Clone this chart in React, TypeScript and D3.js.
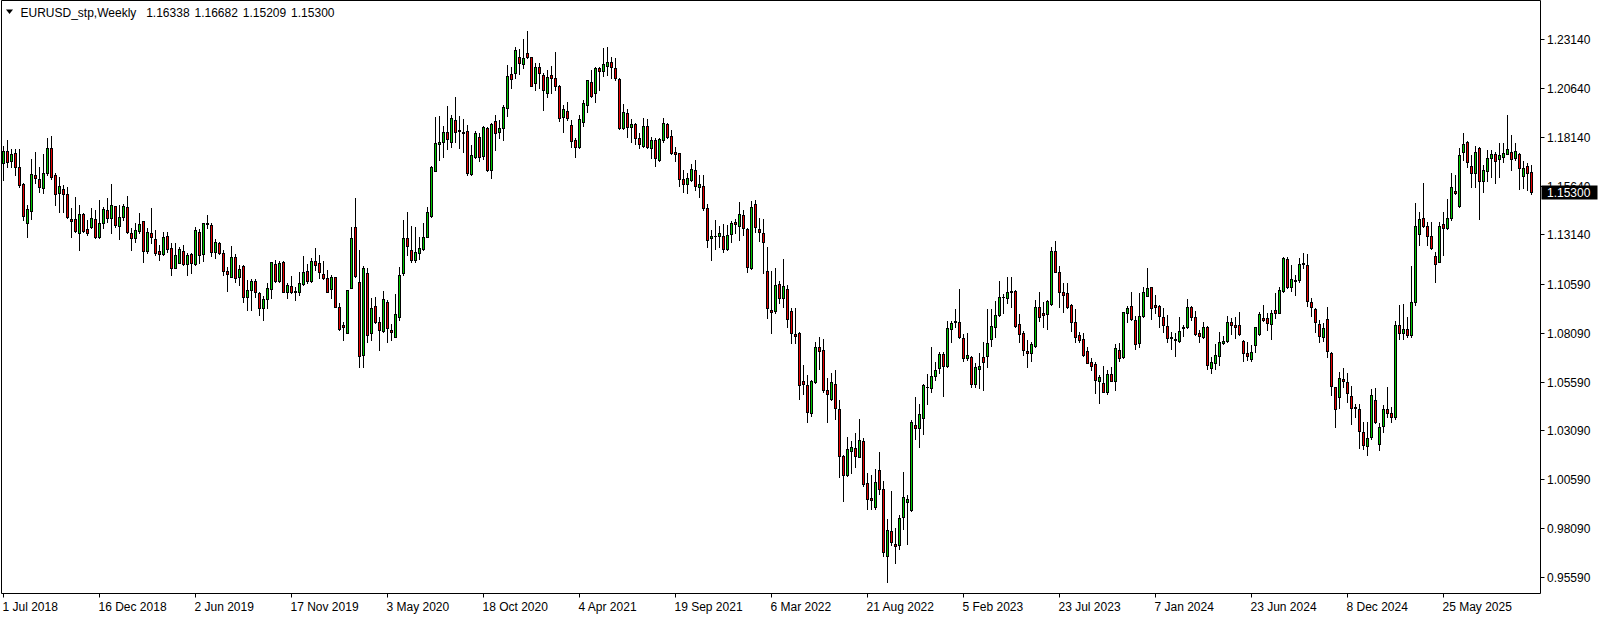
import * as d3 from 'd3'
import { useEffect, useRef } from 'react'

const WIDTH = 1604
const HEIGHT = 620
const AXIS_X = 1540.5
const AXIS_Y = 593.5
const FONT = '"Liberation Sans", Arial, sans-serif'

const BULL_COLOR = '#00c800'
const BEAR_COLOR = '#e60000'

const SYMBOL = 'EURUSD_stp,Weekly'

// weekly bars, 1 Jul 2018 onwards
// prettier-ignore
const OPENS = [
  1.1678, 1.1741, 1.1691, 1.1731, 1.1657, 1.1572, 1.1374, 1.1435, 1.1618, 1.1596,
  1.1550, 1.1626, 1.1754, 1.1618, 1.1524, 1.1546, 1.1520, 1.1392, 1.1392, 1.1319,
  1.1416, 1.1341, 1.1350, 1.1392, 1.1302, 1.1370, 1.1439, 1.1396, 1.1459, 1.1357,
  1.1401, 1.1452, 1.1319, 1.1293, 1.1333, 1.1380, 1.1230, 1.1321, 1.1288, 1.1227,
  1.1213, 1.1305, 1.1242, 1.1143, 1.1169, 1.1230, 1.1160, 1.1213, 1.1160, 1.1324,
  1.1211, 1.1370, 1.1362, 1.1222, 1.1268, 1.1217, 1.1126, 1.1097, 1.1199, 1.1094,
  1.1152, 1.0991, 1.1029, 1.1075, 1.1012, 1.0935, 1.0981, 1.1032, 1.1160, 1.1075,
  1.1170, 1.1020, 1.1049, 1.1023, 1.1020, 1.1058, 1.1126, 1.1075, 1.1177, 1.1165,
  1.1109, 1.1088, 1.1032, 1.1094, 1.0940, 1.0849, 1.0810, 1.1041, 1.1350, 1.1072,
  1.0696, 1.1114, 1.0807, 1.0948, 1.0863, 1.0819, 1.0966, 1.0824, 1.0790, 1.0892,
  1.1114, 1.1293, 1.1234, 1.1182, 1.1217, 1.1239, 1.1302, 1.1408, 1.1640, 1.1775,
  1.1789, 1.1840, 1.1789, 1.1900, 1.1848, 1.1840, 1.1843, 1.1621, 1.1712, 1.1811,
  1.1717, 1.1860, 1.1643, 1.1894, 1.1840, 1.1857, 1.1963, 1.2134, 1.2139, 1.2224,
  1.2185, 1.2241, 1.2221, 1.2087, 1.2170, 1.2130, 1.2036, 1.2130, 1.2113, 1.2074,
  1.1917, 1.1946, 1.1874, 1.1797, 1.1759, 1.1891, 1.1976, 1.2093, 1.2036, 1.2164,
  1.2151, 1.2178, 1.2198, 1.2164, 1.2110, 1.1857, 1.1934, 1.1862, 1.1877, 1.1806,
  1.1768, 1.1869, 1.1758, 1.1797, 1.1693, 1.1797, 1.1877, 1.1818, 1.1734, 1.1729,
  1.1597, 1.1572, 1.1591, 1.1643, 1.1555, 1.1562, 1.1447, 1.1293, 1.1307, 1.1305,
  1.1307, 1.1239, 1.1314, 1.1379, 1.1357, 1.1413, 1.1341, 1.1140, 1.1469, 1.1341,
  1.1319, 1.1126, 1.0926, 1.0921, 1.1058, 1.0986, 1.1034, 1.0921, 1.0803, 1.0810,
  1.0562, 1.0542, 1.0397, 1.0555, 1.0738, 1.0721, 1.0516, 1.0470, 1.0547, 1.0417,
  1.0180, 1.0081, 1.0206, 1.0221, 1.0175, 1.0255, 1.0038, 0.9961, 0.9919, 1.0106,
  1.0009, 0.9666, 0.9794, 0.9727, 0.9722, 0.9867, 0.9944, 0.9902, 1.0337, 1.0320,
  1.0371, 1.0533, 1.0525, 1.0590, 1.0627, 1.0701, 1.0641, 1.0827, 1.0867, 1.0863,
  1.0781, 1.0679, 1.0684, 1.0545, 1.0622, 1.0684, 1.0691, 1.0776, 1.0837, 1.0899,
  1.0994, 1.0989, 1.1024, 1.1024, 1.0853, 1.0807, 1.0716, 1.0704, 1.0743, 1.0942,
  1.0909, 1.0907, 1.0955, 1.1228, 1.1123, 1.1020, 1.1011, 1.0952, 1.0863, 1.0798,
  1.0778, 1.0716, 1.0658, 1.0650, 1.0564, 1.0550, 1.0508, 1.0597, 1.0564, 1.0721,
  1.0684, 1.0909, 1.0947, 1.0875, 1.0759, 1.0895, 1.0999, 1.1042, 1.0952, 1.0947,
  1.0889, 1.0844, 1.0789, 1.0778, 1.0769, 1.0832, 1.0837, 1.0940, 1.0889, 1.0807,
  1.0786, 1.0837, 1.0631, 1.0653, 1.0690, 1.0759, 1.0769, 1.0866, 1.0849, 1.0847,
  1.0769, 1.0704, 1.0675, 1.0747, 1.0802, 1.0884, 1.0887, 1.0853, 1.0924, 1.0912,
  1.1025, 1.1187, 1.1046, 1.1080, 1.1080, 1.1160, 1.1157, 1.0966, 1.0931, 1.0853,
  1.0790, 1.0880, 1.0704, 1.0530, 1.0479, 1.0571, 1.0556, 1.0486, 1.0428, 1.0419,
  1.0299, 1.0229, 1.0277, 1.0465, 1.0238, 1.0330, 1.0420, 1.0400, 1.0380, 1.0850,
  1.0810, 1.0830, 1.0800, 1.0969, 1.1314, 1.1396, 1.1358, 1.1305, 1.1203, 1.1174,
  1.1367, 1.1345, 1.1396, 1.1536, 1.1459, 1.1734, 1.1785, 1.1666, 1.1626, 1.1754,
  1.1589, 1.1640, 1.1703, 1.1724, 1.1698, 1.1712, 1.1727, 1.1737, 1.1703, 1.1724,
  1.1613, 1.1666, 1.16338,
]
// prettier-ignore
const HIGHS = [
  1.1766, 1.1797, 1.1749, 1.1749, 1.1749, 1.1575, 1.1464, 1.1698, 1.1734, 1.1660,
  1.1724, 1.1806, 1.1818, 1.1626, 1.1609, 1.1567, 1.1558, 1.1450, 1.1503, 1.1464,
  1.1422, 1.1387, 1.1447, 1.1439, 1.1490, 1.1452, 1.1498, 1.1572, 1.1459, 1.1464,
  1.1469, 1.1510, 1.1344, 1.1370, 1.1421, 1.1380, 1.1344, 1.1447, 1.1336, 1.1259,
  1.1324, 1.1324, 1.1268, 1.1268, 1.1251, 1.1259, 1.1217, 1.1217, 1.1350, 1.1339,
  1.1374, 1.1413, 1.1370, 1.1288, 1.1276, 1.1234, 1.1148, 1.1254, 1.1213, 1.1157,
  1.1157, 1.1080, 1.1085, 1.1083, 1.1020, 1.0998, 1.1063, 1.1170, 1.1182, 1.1177,
  1.1177, 1.1063, 1.1100, 1.1046, 1.1119, 1.1203, 1.1160, 1.1194, 1.1242, 1.1208,
  1.1177, 1.1131, 1.1106, 1.1094, 1.0960, 1.0866, 1.1029, 1.1353, 1.1498, 1.1234,
  1.1153, 1.1140, 1.0986, 1.0995, 1.0892, 1.1024, 1.0977, 1.0853, 1.1006, 1.1148,
  1.1387, 1.1430, 1.1358, 1.1353, 1.1302, 1.1374, 1.1456, 1.1666, 1.1917, 1.1920,
  1.1871, 1.1971, 1.1925, 1.2016, 1.1920, 1.1903, 1.1874, 1.1772, 1.1843, 1.1831,
  1.1871, 1.1866, 1.1886, 1.1925, 1.1900, 1.1976, 1.2181, 1.2173, 1.2275, 1.2263,
  1.2314, 1.2355, 1.2224, 1.2190, 1.2190, 1.2139, 1.2156, 1.2178, 1.2246, 1.2079,
  1.1976, 1.1993, 1.1899, 1.1806, 1.1925, 1.2002, 1.2104, 1.2156, 1.2173, 1.2173,
  1.2267, 1.2272, 1.2222, 1.2219, 1.2113, 1.1980, 1.1956, 1.1905, 1.1882, 1.1831,
  1.1911, 1.1905, 1.1814, 1.1806, 1.1809, 1.1911, 1.1882, 1.1848, 1.1761, 1.1729,
  1.1643, 1.1626, 1.1672, 1.1695, 1.1618, 1.1618, 1.1469, 1.1336, 1.1387, 1.1357,
  1.1365, 1.1362, 1.1382, 1.1391, 1.1481, 1.1438, 1.1348, 1.1486, 1.1490, 1.1396,
  1.1391, 1.1251, 1.1128, 1.1140, 1.1076, 1.1187, 1.1054, 1.0938, 1.0935, 1.0812,
  1.0644, 1.0593, 1.0568, 1.0764, 1.0790, 1.0778, 1.0576, 1.0605, 1.0619, 1.0465,
  1.0183, 1.0277, 1.0257, 1.0298, 1.0366, 1.0269, 1.0089, 1.0081, 1.0112, 1.0200,
  1.0052, 0.9854, 1.0001, 0.9808, 0.9874, 1.0098, 0.9978, 1.0363, 1.0482, 1.0443,
  1.0547, 1.0598, 1.0738, 1.0661, 1.0713, 1.0709, 1.0872, 1.0872, 1.0931, 1.1032,
  1.0803, 1.0807, 1.0691, 1.0653, 1.0704, 1.0764, 1.0930, 1.0930, 1.0974, 1.1076,
  1.1010, 1.1097, 1.1097, 1.1029, 1.0904, 1.0819, 1.0772, 1.0764, 1.0977, 1.1017,
  1.0965, 1.0977, 1.1251, 1.1280, 1.1153, 1.1063, 1.1066, 1.0955, 1.0931, 1.0812,
  1.0807, 1.0738, 1.0682, 1.0658, 1.0593, 1.0639, 1.0619, 1.0636, 1.0750, 1.0755,
  1.0918, 1.0947, 1.1017, 1.0897, 1.1012, 1.1042, 1.1140, 1.1046, 1.1003, 1.0952,
  1.0935, 1.0901, 1.0812, 1.0807, 1.0892, 1.0849, 1.0983, 1.0948, 1.0921, 1.0824,
  1.0863, 1.0846, 1.0687, 1.0752, 1.0812, 1.0793, 1.0897, 1.0887, 1.0892, 1.0914,
  1.0772, 1.0761, 1.0747, 1.0841, 1.0918, 1.0952, 1.0909, 1.0926, 1.1012, 1.1046,
  1.1199, 1.1199, 1.1157, 1.1106, 1.1191, 1.1217, 1.1211, 1.0989, 1.0938, 1.0875,
  1.0858, 1.0943, 1.0709, 1.0533, 1.0610, 1.0631, 1.0602, 1.0537, 1.0443, 1.0443,
  1.0351, 1.0354, 1.0521, 1.0528, 1.0346, 1.0440, 1.0530, 1.0430, 1.0870, 1.0952,
  1.0957, 1.0890, 1.1152, 1.1473, 1.1430, 1.1575, 1.1379, 1.1379, 1.1225, 1.1379,
  1.1426, 1.1495, 1.1626, 1.1618, 1.1754, 1.1831, 1.1792, 1.1720, 1.1768, 1.1763,
  1.1669, 1.1746, 1.1746, 1.1737, 1.1780, 1.1780, 1.1925, 1.1823, 1.1780, 1.1729,
  1.1690, 1.1678, 1.16682,
]
// prettier-ignore
const LOWS = [
  1.1592, 1.1660, 1.1660, 1.1618, 1.1558, 1.1387, 1.1302, 1.1392, 1.1575, 1.1532,
  1.1527, 1.1618, 1.1596, 1.1464, 1.1430, 1.1430, 1.1396, 1.1302, 1.1328, 1.1234,
  1.1328, 1.1310, 1.1345, 1.1293, 1.1293, 1.1345, 1.1379, 1.1319, 1.1353, 1.1288,
  1.1387, 1.1322, 1.1234, 1.1276, 1.1319, 1.1174, 1.1220, 1.1271, 1.1208, 1.1182,
  1.1208, 1.1225, 1.1105, 1.1140, 1.1165, 1.1157, 1.1105, 1.1117, 1.1157, 1.1165,
  1.1179, 1.1344, 1.1203, 1.1191, 1.1213, 1.1105, 1.1025, 1.1094, 1.1071, 1.1054,
  1.0969, 1.0926, 1.0926, 1.0994, 1.0901, 1.0875, 1.0935, 1.0986, 1.1072, 1.1068,
  1.1017, 1.0989, 1.1012, 1.0977, 1.1003, 1.1054, 1.1063, 1.1068, 1.1131, 1.1088,
  1.1085, 1.1017, 1.0986, 1.0940, 1.0824, 1.0773, 1.0807, 1.1037, 1.1097, 1.0636,
  1.0636, 1.0764, 1.0773, 1.0858, 1.0721, 1.0812, 1.0764, 1.0772, 1.0790, 1.0875,
  1.1106, 1.1208, 1.1170, 1.1170, 1.1187, 1.1234, 1.1302, 1.1404, 1.1640, 1.1695,
  1.1712, 1.1751, 1.1763, 1.1785, 1.1754, 1.1737, 1.1618, 1.1618, 1.1707, 1.1690,
  1.1700, 1.1640, 1.1604, 1.1746, 1.1809, 1.1797, 1.1922, 1.2062, 1.2116, 1.2134,
  1.2164, 1.2215, 1.2075, 1.2053, 1.2062, 1.1951, 1.2019, 1.2036, 1.2053, 1.1894,
  1.1836, 1.1899, 1.1763, 1.1708, 1.1758, 1.1870, 1.1942, 1.2019, 1.1990, 1.2053,
  1.2127, 1.2130, 1.2113, 1.2104, 1.1853, 1.1853, 1.1811, 1.1785, 1.1775, 1.1754,
  1.1763, 1.1754, 1.1707, 1.1666, 1.1691, 1.1785, 1.1806, 1.1725, 1.1690, 1.1563,
  1.1529, 1.1524, 1.1587, 1.1541, 1.1507, 1.1438, 1.1251, 1.1182, 1.1239, 1.1251,
  1.1222, 1.1234, 1.1276, 1.1319, 1.1285, 1.1310, 1.1122, 1.1136, 1.1327, 1.1281,
  1.1114, 1.0883, 1.0807, 1.0912, 1.0960, 1.0943, 1.0837, 1.0755, 1.0759, 1.0468,
  1.0496, 1.0351, 1.0385, 1.0550, 1.0624, 1.0504, 1.0354, 1.0465, 1.0366, 1.0069,
  0.9949, 1.0077, 1.0093, 1.0120, 1.0171, 1.0026, 0.9907, 0.9907, 0.9907, 0.9984,
  0.9666, 0.9531, 0.9722, 0.9628, 0.9700, 0.9803, 0.9726, 0.9898, 1.0265, 1.0223,
  1.0289, 1.0443, 1.0504, 1.0568, 1.0605, 1.0486, 1.0636, 1.0764, 1.0837, 1.0785,
  1.0667, 1.0670, 1.0533, 1.0530, 1.0525, 1.0516, 1.0632, 1.0743, 1.0786, 1.0896,
  1.0909, 1.0960, 1.0943, 1.0840, 1.0760, 1.0696, 1.0632, 1.0665, 1.0738, 1.0870,
  1.0837, 1.0829, 1.0952, 1.1119, 1.0943, 1.0914, 1.0935, 1.0820, 1.0764, 1.0764,
  1.0692, 1.0653, 1.0619, 1.0499, 1.0448, 1.0505, 1.0496, 1.0562, 1.0516, 1.0665,
  1.0682, 1.0863, 1.0875, 1.0725, 1.0738, 1.0892, 1.0998, 1.0880, 1.0909, 1.0841,
  1.0812, 1.0761, 1.0725, 1.0692, 1.0761, 1.0795, 1.0836, 1.0875, 1.0798, 1.0761,
  1.0781, 1.0622, 1.0602, 1.0622, 1.0644, 1.0750, 1.0764, 1.0802, 1.0784, 1.0798,
  1.0667, 1.0670, 1.0667, 1.0709, 1.0798, 1.0870, 1.0824, 1.0776, 1.0884, 1.0909,
  1.1020, 1.1041, 1.1025, 1.1003, 1.1068, 1.1140, 1.0948, 1.0897, 1.0812, 1.0761,
  1.0767, 1.0684, 1.0491, 1.0328, 1.0422, 1.0533, 1.0453, 1.0340, 1.0380, 1.0221,
  1.0214, 1.0183, 1.0265, 1.0346, 1.0209, 1.0300, 1.0380, 1.0350, 1.0370, 1.0780,
  1.0780, 1.0790, 1.0790, 1.0950, 1.1259, 1.1353, 1.1259, 1.1239, 1.1068, 1.1170,
  1.1208, 1.1341, 1.1387, 1.1519, 1.1456, 1.1695, 1.1661, 1.1558, 1.1558, 1.1391,
  1.1529, 1.1587, 1.1609, 1.1575, 1.1609, 1.1686, 1.1724, 1.1643, 1.1695, 1.1546,
  1.1550, 1.1541, 1.15209,
]
// prettier-ignore
const CLOSES = [
  1.1743, 1.1686, 1.1725, 1.1657, 1.1567, 1.1410, 1.1444, 1.1623, 1.1604, 1.1555,
  1.1628, 1.1754, 1.1606, 1.1520, 1.1560, 1.1520, 1.1404, 1.1384, 1.1333, 1.1416,
  1.1333, 1.1319, 1.1396, 1.1302, 1.1370, 1.1442, 1.1396, 1.1464, 1.1362, 1.1404,
  1.1459, 1.1324, 1.1293, 1.1334, 1.1365, 1.1230, 1.1324, 1.1302, 1.1217, 1.1213,
  1.1300, 1.1239, 1.1143, 1.1208, 1.1237, 1.1160, 1.1208, 1.1169, 1.1336, 1.1208,
  1.1370, 1.1367, 1.1225, 1.1273, 1.1217, 1.1128, 1.1109, 1.1199, 1.1088, 1.1134,
  1.0991, 1.1029, 1.1075, 1.1020, 1.0938, 1.0981, 1.1037, 1.1170, 1.1077, 1.1165,
  1.1020, 1.1054, 1.1020, 1.1017, 1.1063, 1.1119, 1.1075, 1.1177, 1.1157, 1.1119,
  1.1088, 1.1020, 1.1094, 1.0943, 1.0827, 1.0841, 1.1027, 1.1293, 1.1102, 1.0692,
  1.1140, 1.0798, 1.0935, 1.0867, 1.0824, 1.0981, 1.0836, 1.0815, 1.0904, 1.1106,
  1.1293, 1.1256, 1.1182, 1.1222, 1.1242, 1.1299, 1.1427, 1.1657, 1.1780, 1.1785,
  1.1840, 1.1801, 1.1908, 1.1840, 1.1843, 1.1835, 1.1630, 1.1720, 1.1831, 1.1712,
  1.1862, 1.1643, 1.1877, 1.1835, 1.1857, 1.1965, 1.2125, 1.2110, 1.2258, 1.2190,
  1.2215, 1.2221, 1.2075, 1.2173, 1.2139, 1.2053, 1.2122, 1.2116, 1.2075, 1.1911,
  1.1954, 1.1908, 1.1794, 1.1763, 1.1903, 1.1985, 1.2103, 1.2023, 1.2164, 1.2151,
  1.2185, 1.2195, 1.2169, 1.2113, 1.1860, 1.1939, 1.1865, 1.1877, 1.1806, 1.1775,
  1.1870, 1.1763, 1.1797, 1.1703, 1.1802, 1.1882, 1.1811, 1.1729, 1.1724, 1.1597,
  1.1573, 1.1601, 1.1647, 1.1563, 1.1570, 1.1447, 1.1285, 1.1307, 1.1304, 1.1319,
  1.1239, 1.1310, 1.1370, 1.1367, 1.1416, 1.1345, 1.1148, 1.1452, 1.1350, 1.1324,
  1.1273, 1.0935, 1.0914, 1.1054, 1.0986, 1.1049, 1.0878, 1.0810, 1.0795, 1.0542,
  1.0545, 1.0405, 1.0562, 1.0738, 1.0718, 1.0516, 1.0494, 1.0555, 1.0426, 1.0180,
  1.0081, 1.0214, 1.0226, 1.0180, 1.0260, 1.0035, 0.9958, 0.9953, 1.0043, 1.0009,
  0.9688, 0.9799, 0.9739, 0.9719, 0.9862, 0.9966, 0.9958, 1.0351, 1.0320, 1.0393,
  1.0542, 1.0530, 1.0588, 1.0619, 1.0701, 1.0641, 1.0832, 1.0858, 1.0872, 1.0790,
  1.0679, 1.0696, 1.0545, 1.0632, 1.0639, 1.0661, 1.0759, 1.0844, 1.0899, 1.0994,
  1.0991, 1.1017, 1.1017, 1.0846, 1.0803, 1.0721, 1.0708, 1.0750, 1.0942, 1.0892,
  1.0901, 1.0972, 1.1228, 1.1123, 1.1017, 1.1003, 1.0943, 1.0866, 1.0790, 1.0772,
  1.0696, 1.0656, 1.0641, 1.0568, 1.0585, 1.0508, 1.0597, 1.0564, 1.0730, 1.0682,
  1.0914, 1.0935, 1.0880, 1.0752, 1.0895, 1.1017, 1.1037, 1.0938, 1.0943, 1.0897,
  1.0849, 1.0784, 1.0781, 1.0774, 1.0820, 1.0841, 1.0940, 1.0889, 1.0802, 1.0793,
  1.0837, 1.0644, 1.0658, 1.0696, 1.0761, 1.0769, 1.0866, 1.0849, 1.0841, 1.0802,
  1.0704, 1.0692, 1.0713, 1.0837, 1.0906, 1.0875, 1.0858, 1.0909, 1.0912, 1.1027,
  1.1191, 1.1046, 1.1085, 1.1075, 1.1160, 1.1165, 1.0974, 1.0940, 1.0866, 1.0795,
  1.0832, 1.0718, 1.0539, 1.0417, 1.0576, 1.0564, 1.0503, 1.0426, 1.0423, 1.0306,
  1.0235, 1.0269, 1.0491, 1.0354, 1.0325, 1.0420, 1.0400, 1.0380, 1.0850, 1.0810,
  1.0830, 1.0800, 1.0969, 1.1357, 1.1391, 1.1358, 1.1305, 1.1245, 1.1160, 1.1358,
  1.1345, 1.1396, 1.1555, 1.1524, 1.1720, 1.1775, 1.1686, 1.1626, 1.1737, 1.1587,
  1.1643, 1.1703, 1.1724, 1.1690, 1.1720, 1.1732, 1.1749, 1.1700, 1.1742, 1.1652,
  1.1652, 1.1626, 1.15300,
]

const PRICE_TICKS = [1.2314, 1.2064, 1.1814, 1.1564, 1.1314, 1.1059, 1.0809, 1.0559, 1.0309, 1.0059, 0.9809, 0.9559]

const TIME_LABELS = [
  '1 Jul 2018', '16 Dec 2018', '2 Jun 2019', '17 Nov 2019', '3 May 2020', '18 Oct 2020',
  '4 Apr 2021', '19 Sep 2021', '6 Mar 2022', '21 Aug 2022', '5 Feb 2023', '23 Jul 2023',
  '7 Jan 2024', '23 Jun 2024', '8 Dec 2024', '25 May 2025',
]
const TIME_LABEL_STEP = 24 // bars between date labels

function drawChart(node: SVGSVGElement) {
  const svg = d3.select(node)
  svg.selectAll('*').remove()

  const n = CLOSES.length
  const x = d3.scaleLinear([0, n - 1], [3.5, 3.5 + 4 * (n - 1)])
  const y = d3.scaleLinear([0.9559, 1.2314], [576.9, 39.1])
  const py = (v: number) => Math.round(y(v))
  const top = (i: number) => py(Math.max(OPENS[i], CLOSES[i]))
  const bottom = (i: number) => py(Math.min(OPENS[i], CLOSES[i]))

  svg.append('rect').attr('width', WIDTH).attr('height', HEIGHT).attr('fill', '#fff')

  // frame
  svg
    .append('path')
    .attr('d', `M1.5,0.5H${AXIS_X}V${AXIS_Y}H1.5Z`)
    .attr('fill', 'none')
    .attr('stroke', '#000')

  const bars = svg.append('g').attr('shape-rendering', 'crispEdges')
  const idx = d3.range(n)

  // wicks
  bars
    .selectAll('rect.wick')
    .data(idx)
    .join('rect')
    .attr('class', 'wick')
    .attr('x', (i) => x(i) - 0.5)
    .attr('y', (i) => py(HIGHS[i]))
    .attr('width', 1)
    .attr('height', (i) => py(LOWS[i]) - py(HIGHS[i]) + 1)
    .attr('fill', '#000')

  // body outline
  bars
    .selectAll('rect.body')
    .data(idx)
    .join('rect')
    .attr('class', 'body')
    .attr('x', (i) => x(i) - 1.5)
    .attr('y', top)
    .attr('width', 3)
    .attr('height', (i) => bottom(i) - top(i) + 1)
    .attr('fill', '#000')

  // body fill
  bars
    .selectAll('rect.fill')
    .data(idx.filter((i) => bottom(i) - top(i) > 1))
    .join('rect')
    .attr('class', 'fill')
    .attr('x', (i) => x(i) - 0.5)
    .attr('y', (i) => top(i) + 1)
    .attr('width', 1)
    .attr('height', (i) => bottom(i) - top(i) - 1)
    .attr('fill', (i) => (CLOSES[i] >= OPENS[i] ? BULL_COLOR : BEAR_COLOR))

  // price axis
  const yAxis = svg.append('g').attr('font-family', FONT).attr('font-size', 12)
  PRICE_TICKS.forEach((p) => {
    const ty = py(p) + 0.5
    yAxis
      .append('line')
      .attr('x1', AXIS_X)
      .attr('x2', AXIS_X + 4)
      .attr('y1', ty)
      .attr('y2', ty)
      .attr('stroke', '#000')
    yAxis
      .append('text')
      .attr('x', 1547)
      .attr('y', ty + 4.5)
      .attr('fill', '#000')
      .text(p.toFixed(5))
  })

  // current price marker
  const last = CLOSES[n - 1]
  const ly = py(last) + 0.5
  svg
    .append('rect')
    .attr('x', AXIS_X + 1)
    .attr('y', ly - 7)
    .attr('width', 56)
    .attr('height', 14)
    .attr('fill', '#000')
  svg
    .append('text')
    .attr('x', 1547)
    .attr('y', ly + 4.5)
    .attr('font-family', FONT)
    .attr('font-size', 12)
    .attr('fill', '#fff')
    .text(last.toFixed(5))

  // time axis
  const xAxis = svg.append('g').attr('font-family', FONT).attr('font-size', 12)
  TIME_LABELS.forEach((label, j) => {
    const tx = x(j * TIME_LABEL_STEP)
    xAxis
      .append('line')
      .attr('x1', tx)
      .attr('x2', tx)
      .attr('y1', AXIS_Y)
      .attr('y2', AXIS_Y + 4)
      .attr('stroke', '#000')
    xAxis
      .append('text')
      .attr('x', tx - 1)
      .attr('y', 611)
      .attr('fill', '#000')
      .text(label)
  })

  // header
  svg.append('path').attr('d', 'M6,9.5H13L9.5,14Z').attr('fill', '#000')
  svg
    .append('text')
    .attr('x', 20.5)
    .attr('y', 16.5)
    .attr('font-family', FONT)
    .attr('font-size', 12)
    .attr('fill', '#000')
    .attr('xml:space', 'preserve')
    .style('white-space', 'pre')
    .style('word-spacing', '1.6px')
    .text(
      `${SYMBOL}  ${OPENS[n - 1].toFixed(5)} ${HIGHS[n - 1].toFixed(5)} ${LOWS[n - 1].toFixed(5)} ${last.toFixed(5)}`,
    )
}

export default function App() {
  const ref = useRef<SVGSVGElement>(null)
  useEffect(() => {
    if (ref.current) drawChart(ref.current)
  }, [])
  return (
    <svg
      ref={ref}
      width={WIDTH}
      height={HEIGHT}
      viewBox={`0 0 ${WIDTH} ${HEIGHT}`}
      style={{ position: 'absolute', left: 0, top: 0, display: 'block' }}
    />
  )
}
